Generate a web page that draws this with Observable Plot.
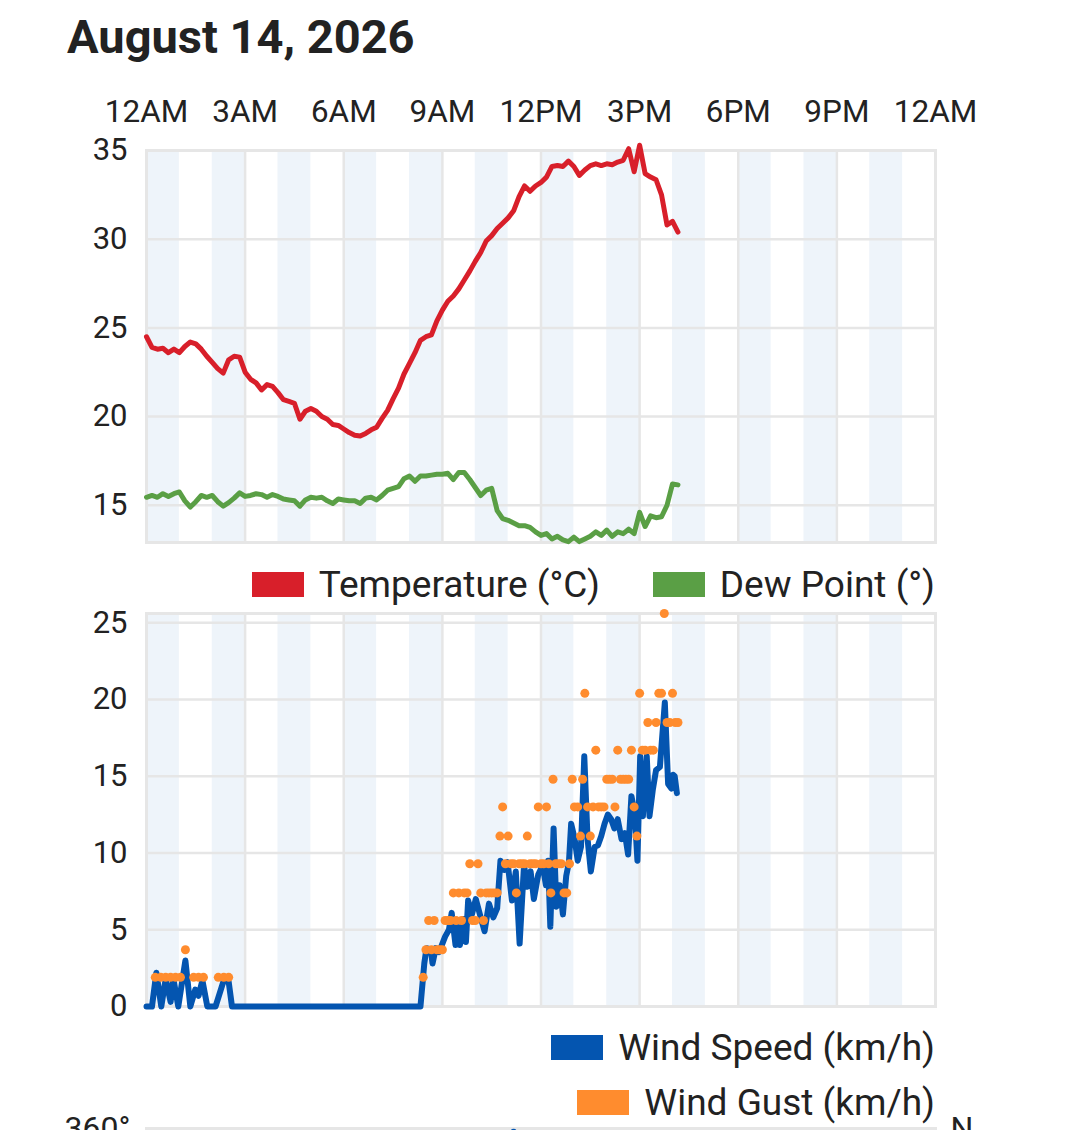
<!DOCTYPE html>
<html><head><meta charset="utf-8">
<script src="https://cdn.jsdelivr.net/npm/d3@7"></script>
<script src="https://cdn.jsdelivr.net/npm/@observablehq/plot@0.6"></script>
<style>
html,body{margin:0;padding:0;background:#fff;overflow:hidden;}
#root{position:relative;width:1079px;height:1130px;overflow:hidden;font-family:Roboto,sans-serif;color:#222;}
.abs{position:absolute;left:0;}
#title{left:67px;top:13px;font-size:47px;font-weight:700;line-height:47px;white-space:nowrap;}
.legend{display:flex;justify-content:flex-end;align-items:center;width:935px;font-size:37px;line-height:37px;white-space:nowrap;}
.item{display:flex;align-items:center;margin-left:53px;}
.sw{width:52px;height:25px;margin-right:15px;}
svg{overflow:visible;}
</style></head>
<body><div id="root">
<div id="title" class="abs">August 14, 2026</div>
<div id="p1" class="abs" style="top:70px"></div>
<div id="leg1" class="abs legend" style="top:566px"></div>
<div id="p2" class="abs" style="top:600px"></div>
<div id="leg2" class="abs legend" style="top:1029px"></div>
<div id="leg3" class="abs legend" style="top:1084px"></div>
<div id="p3" class="abs" style="top:1115px"></div>
</div>
<script>
// ---- data ----
const tickHours = [0,3,6,9,12,15,18,21,24];
const tickLabels = ["12AM","3AM","6AM","9AM","12PM","3PM","6PM","9PM","12AM"];
const shadedHours = [0,2,4,6,8,10,12,14,16,18,20,22];

// temperature (°C), every 10 minutes from 12AM
const tempValues = [
 24.5,23.9,23.8,23.85,23.6,23.8,23.6,23.95,24.2,24.1,
 23.8,23.4,23.05,22.7,22.45,23.2,23.4,23.35,22.5,22.1,
 21.9,21.5,21.8,21.7,21.35,20.95,20.85,20.75,19.85,20.3,
 20.45,20.3,20.0,19.85,19.55,19.5,19.3,19.1,18.95,18.9,
 19.05,19.25,19.4,19.9,20.35,21.0,21.6,22.4,23.0,23.6,
 24.3,24.5,24.6,25.4,26.0,26.5,26.8,27.2,27.7,28.2,
 28.75,29.25,29.9,30.2,30.6,30.9,31.2,31.6,32.4,33.0,
 32.7,33.0,33.2,33.5,34.1,34.15,34.1,34.4,34.1,33.6,
 33.9,34.15,34.25,34.15,34.25,34.2,34.35,34.45,35.1,33.8,
 35.3,33.7,33.5,33.35,32.5,30.8,31.0,30.4
];
// dew point (°), every 10 minutes from 12AM
const dewValues = [
 15.45,15.55,15.45,15.65,15.5,15.65,15.75,15.25,14.9,15.2,
 15.55,15.45,15.55,15.2,14.95,15.15,15.4,15.7,15.5,15.55,
 15.65,15.6,15.45,15.6,15.5,15.35,15.3,15.25,14.95,15.3,
 15.45,15.4,15.45,15.25,15.1,15.35,15.3,15.25,15.25,15.1,
 15.4,15.45,15.3,15.55,15.85,15.95,16.05,16.5,16.65,16.35,
 16.65,16.65,16.7,16.75,16.75,16.8,16.45,16.85,16.85,16.45,
 16.0,15.55,15.85,15.95,14.7,14.25,14.15,14.0,13.85,13.85,
 13.75,13.5,13.3,13.4,13.1,13.25,13.05,12.95,13.2,12.95,
 13.1,13.25,13.5,13.3,13.6,13.25,13.5,13.4,13.65,13.4,
 14.6,13.8,14.4,14.3,14.35,15.0,16.2,16.15
];

// wind speed (km/h)
const windTimes = [
 "0:00","0:10","0:18","0:27","0:35","0:44","0:49","0:58","1:11","1:20",
 "1:29","1:35","1:42","1:51","2:06","2:21","2:30","2:36","8:20","8:27",
 "8:31","8:39","8:42","8:48","8:54","8:59","9:05","9:12","9:17","9:24",
 "9:27","9:32","9:38","9:43","9:47","9:54","10:01","10:10","10:17","10:25",
 "10:33","10:40","10:46","10:53","10:59","11:07","11:14","11:21","11:29","11:35",
 "11:41","11:47","11:55","12:03","12:09","12:13","12:17","12:23","12:28","12:34",
 "12:40","12:46","12:51","12:55","13:01","13:07","13:13","13:19","13:25","13:31",
 "13:38","13:44","13:50","13:56","14:02","14:08","14:14","14:20","14:27","14:33",
 "14:39","14:45","14:51","14:56","15:01","15:06","15:13","15:18","15:24","15:30",
 "15:37","15:46","15:52","15:58","16:01","16:04","16:08"
];
const windSpeed = [
 0,0,2.2,0,1.8,0.3,1.8,0,3.0,0,
 1.1,0.7,1.7,0,0,1.7,1.6,0,0,2.8,
 3.8,3.7,2.8,3.8,3.55,4.0,4.55,5.0,6.1,4.0,
 5.2,4.0,5.7,4.2,6.9,6.0,7.0,5.8,4.9,6.7,
 5.8,6.4,9.5,8.9,9.4,6.9,8.8,4.1,9.2,7.8,
 8.8,7.0,8.6,9.2,7.9,9.5,5.2,11.6,6.5,7.9,
 6.0,8.5,9.4,11.9,11.0,9.5,10.4,16.3,10.9,8.8,
 10.4,10.5,11.1,11.9,12.5,12.2,11.6,12.2,10.9,11.3,
 9.9,13.7,12.6,9.5,16.3,12.4,16.3,12.4,14.1,15.4,
 15.6,19.8,14.5,14.2,15.1,15.0,13.9
];

// wind gust (km/h)
const gustTimes = [
 "0:16","0:26","0:35","0:44","0:53","1:02","1:11","1:26","1:35","1:44","2:11","2:21","2:30",
 "8:25","8:30","8:35","8:40","8:45","8:50","8:55","9:00","9:05","9:10","9:15","9:20",
 "9:25","9:30","9:35","9:40","9:45","9:50","9:55","10:00","10:05","10:10","10:15","10:20",
 "10:25","10:30","10:35","10:40","10:45","10:50","10:55","11:00","11:05","11:10","11:15","11:20",
 "11:25","11:30","11:35","11:40","11:45","11:50","11:55","12:00","12:05","12:10","12:14","12:18",
 "12:22","12:27","12:32","12:37","12:42","12:47","12:52","12:57","13:01","13:07","13:12","13:16",
 "13:20","13:25","13:30","13:35","13:40","13:45","13:50","13:55","14:00","14:05","14:10","14:15",
 "14:20","14:25","14:30","14:35","14:40","14:45","14:50","14:55","15:00","15:05","15:10","15:15",
 "15:20","15:25","15:30","15:35","15:40","15:45","15:50","15:55","16:00","16:05","16:10"
];
const gustValues = [
 1.9,1.9,1.9,1.9,1.9,1.9,3.7,1.9,1.9,1.9,1.9,1.9,1.9,
 1.9,3.7,5.6,3.7,5.6,3.7,3.7,3.7,5.6,5.6,5.6,7.4,
 5.6,7.4,5.6,7.4,7.4,9.3,5.6,5.6,9.3,7.4,5.6,7.4,
 7.4,7.4,7.4,7.4,11.1,13.0,9.3,11.1,9.3,9.3,7.4,9.3,
 9.3,9.3,11.1,9.3,9.3,9.3,13.0,9.3,9.3,13.0,9.3,7.4,
 14.8,9.3,9.3,9.3,7.4,7.4,9.3,14.8,13.0,13.0,11.1,14.8,
 20.4,13.0,11.1,13.0,16.7,13.0,13.0,13.0,14.8,14.8,14.8,13.0,
 16.7,14.8,14.8,14.8,14.8,16.7,13.0,11.1,20.4,16.7,16.7,18.5,
 16.7,16.7,18.5,20.4,20.4,25.6,18.5,18.5,20.4,18.5,18.5
];

// wind direction (only the top of this panel is visible)
const dirTimes = ["11:10"];
const dirValues = [357];
const dirTicks = [0,90,180,270,360];
const dirCompass = ["N","E","S","W","N"];

// ---- helpers ----
const toH = s => { const [h,m] = s.split(":").map(Number); return h + m/60; };
const temp = tempValues.map((v,i) => ({h: i*10/60, v}));
const dew = dewValues.map((v,i) => ({h: i*10/60, v}));
const speed = windSpeed.map((v,i) => ({h: toH(windTimes[i]), v}));
const gust = gustValues.map((v,i) => ({h: toH(gustTimes[i]), v}));
const dir = dirValues.map((v,i) => ({h: toH(dirTimes[i]), v}));

const colors = {temp:"#d81f2a", dew:"#5a9f45", speed:"#0455b0", gust:"#ff8c2e"};
const GRID = "#e6e6e6", BAND = "#eef4fa";
const style = {fontFamily:"Roboto, sans-serif", fontSize:"30px", color:"#222", background:"transparent", overflow:"visible"};
const common = {width:1079, marginLeft:146, marginRight:144, x:{domain:[0,24], axis:null}, style};
const bg = () => [
  Plot.rect(shadedHours, {x1: d => d, x2: d => d + 1, fill: BAND}),
  Plot.gridX(tickHours, {stroke: GRID, strokeOpacity: 1, strokeWidth: 2.5})
];

// ---- panel 1 ----
const p1 = Plot.plot({
  ...common, height: 478, marginTop: 80, marginBottom: 6,
  y: {domain: [12.9, 35], axis: null},
  marks: [
    ...bg(),
    Plot.gridY([15,20,25,30,35], {stroke: GRID, strokeOpacity: 1, strokeWidth: 2.5}),
    Plot.frame({stroke: GRID, strokeWidth: 3}),
    Plot.axisX(tickHours, {anchor: "top", label: null, tickSize: 0, tickPadding: 29, tickFormat: d => tickLabels[tickHours.indexOf(d)], fontSize: 31.5, fill: "#222"}),
    Plot.axisY([15,20,25,30,35], {anchor: "left", label: null, tickSize: 0, tickPadding: 19, fontSize: 31, fill: "#222"}),
    Plot.line(dew, {x: "h", y: "v", stroke: colors.dew, strokeWidth: 5}),
    Plot.line(temp, {x: "h", y: "v", stroke: colors.temp, strokeWidth: 5})
  ]
});
document.getElementById("p1").appendChild(p1);

// ---- panel 2 ----
const p2 = Plot.plot({
  ...common, height: 412, marginTop: 13, marginBottom: 6,
  y: {domain: [0, d3.max(gustValues)], axis: null},
  marks: [
    ...bg(),
    Plot.gridY([0,5,10,15,20,25], {stroke: GRID, strokeOpacity: 1, strokeWidth: 2.5}),
    Plot.frame({stroke: GRID, strokeWidth: 3}),
    Plot.axisY([0,5,10,15,20,25], {anchor: "left", label: null, tickSize: 0, tickPadding: 19, fontSize: 31, fill: "#222"}),
    Plot.line(speed, {x: "h", y: "v", stroke: colors.speed, strokeWidth: 6}),
    Plot.dot(gust, {x: "h", y: "v", r: 4.5, fill: colors.gust, stroke: null})
  ]
});
document.getElementById("p2").appendChild(p2);

// ---- panel 3 (wind direction, mostly below the fold) ----
const p3 = Plot.plot({
  ...common, height: 400, marginTop: 13, marginBottom: 6,
  y: {domain: [0, 360], axis: null},
  marks: [
    ...bg(),
    Plot.gridY(dirTicks, {stroke: GRID, strokeOpacity: 1, strokeWidth: 2.5}),
    Plot.frame({stroke: GRID, strokeWidth: 3}),
    Plot.axisY(dirTicks, {anchor: "left", label: null, tickSize: 0, tickPadding: 16, tickFormat: d => d + "°", fontSize: 32, fill: "#222"}),
    Plot.axisY(dirTicks, {anchor: "right", label: null, tickSize: 0, tickPadding: 15, tickFormat: d => dirCompass[dirTicks.indexOf(d)], fontSize: 32, fill: "#222"}),
    Plot.dot(dir, {x: "h", y: "v", r: 3, fill: colors.speed})
  ]
});
document.getElementById("p3").appendChild(p3);

// ---- legends ----
function legend(id, items) {
  const el = document.getElementById(id);
  for (const [label, color] of items) {
    const it = document.createElement("div"); it.className = "item";
    const sw = document.createElement("div"); sw.className = "sw"; sw.style.background = color;
    const tx = document.createElement("span"); tx.textContent = label;
    it.appendChild(sw); it.appendChild(tx); el.appendChild(it);
  }
}
legend("leg1", [["Temperature (°C)", colors.temp], ["Dew Point (°)", colors.dew]]);
legend("leg2", [["Wind Speed (km/h)", colors.speed]]);
legend("leg3", [["Wind Gust (km/h)", colors.gust]]);
</script>
</body></html>
